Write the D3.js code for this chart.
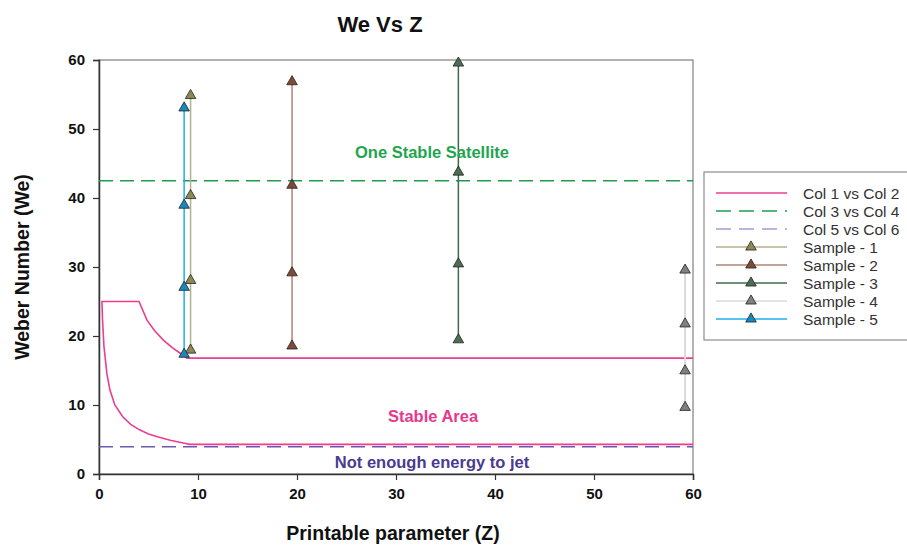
<!DOCTYPE html>
<head>
<meta charset="utf-8">
<title>We Vs Z</title>
<style>
  body { margin: 0; background: #fff; }
  text { font-family: "Liberation Sans", Arial, sans-serif; }
</style>
</head>
<body>
<svg width="907" height="545"></svg>
<script src="https://d3js.org/d3.v7.min.js"></script>
<script>

    // boundary curve (Col 1 vs Col 2)
    const boundZ  = [60, 8.9, 8.2, 7.4, 6.5, 5.6, 4.85, 4.04, 0.3, 0.35, 0.5, 0.8, 1.1, 1.6, 2.4, 3.2, 4.1, 5.0, 5.9, 7.2, 8.5, 9.2, 60];
    const boundWe = [16.8, 16.8, 17.5, 18.3, 19.4, 20.8, 22.3, 25, 25, 22.5, 18.5, 14.5, 12.2, 10.0, 8.3, 7.2, 6.4, 5.8, 5.4, 4.9, 4.5, 4.3, 4.3];

    // Col 3 vs Col 4 and Col 5 vs Col 6 (horizontal limits)
    const satZ = [0, 60], satWe = [42.5, 42.5];
    const jetZ = [0, 60], jetWe = [3.95, 3.95];

    // samples
    const sampleNames = ["Sample - 1", "Sample - 2", "Sample - 3", "Sample - 4", "Sample - 5"];
    const sampleZ = [9.25, 19.5, 36.3, 59.2, 8.6];
    const sampleWe = [
        [55.0, 40.5, 28.2, 18.1],
        [57.0, 42.0, 29.3, 18.7],
        [59.7, 43.9, 30.6, 19.6],
        [29.7, 21.9, 15.1, 9.8],
        [53.2, 39.1, 27.2, 17.5]
    ];
    const sampleLine = ["#b4b08c", "#b08474", "#3f6a48", "#dadada", "#1eb0e8"];
    const sampleFill = ["#8c8a52", "#7c4c38", "#4c6e52", "#808080", "#1888c0"];

    const xTicks = [0, 10, 20, 30, 40, 50, 60];
    const yTicks = [0, 10, 20, 30, 40, 50, 60];

    const svg = d3.select("svg");
    const m = { left: 99, right: 693, top: 60, bottom: 474 };

    const x = d3.scaleLinear().domain([0, 60]).range([m.left, m.right]);
    const y = d3.scaleLinear().domain([0, 60]).range([m.bottom, m.top]);

    // frame
    svg.append("rect")
        .attr("x", m.left).attr("y", m.top)
        .attr("width", m.right - m.left).attr("height", m.bottom - m.top)
        .attr("fill", "none").attr("stroke", "#666").attr("stroke-width", 1);

    // axes
    const xAxis = svg.append("g")
        .attr("transform", "translate(0," + m.bottom + ")")
        .call(d3.axisBottom(x).tickValues(xTicks).tickSize(6).tickPadding(8).tickFormat(d3.format("d")));
    const yAxis = svg.append("g")
        .attr("transform", "translate(" + m.left + ",0)")
        .call(d3.axisLeft(y).tickValues(yTicks).tickSize(6).tickPadding(8).tickFormat(d3.format("d")));
    [xAxis, yAxis].forEach(a => {
        a.select(".domain").attr("stroke", "#333").attr("stroke-width", 1.5);
        a.selectAll(".tick line").attr("stroke", "#333").attr("stroke-width", 1.2);
        a.selectAll("text").attr("font-size", 15).attr("font-weight", "bold").attr("fill", "#111")
            .style("font-family", "'Liberation Sans', Arial, sans-serif");
    });

    const line = d3.line().x(d => x(d[0])).y(d => y(d[1]));

    // limit lines
    svg.append("path")
        .attr("d", line(jetZ.map((z, i) => [z, jetWe[i]])))
        .attr("fill", "none").attr("stroke", "#6b5bb0").attr("stroke-width", 1.5)
        .attr("stroke-dasharray", "14,7");
    svg.append("path")
        .attr("d", line(satZ.map((z, i) => [z, satWe[i]])))
        .attr("fill", "none").attr("stroke", "#1c9e4c").attr("stroke-width", 1.5)
        .attr("stroke-dasharray", "14,7");
    svg.append("path")
        .attr("d", line(boundZ.map((z, i) => [z, boundWe[i]])))
        .attr("fill", "none").attr("stroke", "#ee3d8f").attr("stroke-width", 1.6);

    // samples
    const tri = d3.symbol().type(d3.symbolTriangle).size(48);
    sampleNames.forEach((name, i) => {
        const pts = sampleWe[i].map(w => [sampleZ[i], w]);
        svg.append("path")
            .attr("d", line(pts))
            .attr("fill", "none").attr("stroke", sampleLine[i]).attr("stroke-width", i === 3 ? 2 : 1.5);
        svg.append("g").selectAll("path")
            .data(pts)
            .join("path")
            .attr("transform", d => "translate(" + x(d[0]) + "," + (y(d[1]) + 1) + ")")
            .attr("d", tri)
            .attr("fill", sampleFill[i]).attr("stroke", "#222").attr("stroke-width", 0.8);
    });

    // annotations
    svg.append("text").attr("x", 432).attr("y", 158).attr("text-anchor", "middle")
        .attr("font-size", 16.5).attr("font-weight", "bold").attr("fill", "#1ea64e").text("One Stable Satellite");
    svg.append("text").attr("x", 433).attr("y", 422).attr("text-anchor", "middle")
        .attr("font-size", 16.5).attr("font-weight", "bold").attr("fill", "#e8388c").text("Stable Area");
    svg.append("text").attr("x", 432).attr("y", 468).attr("text-anchor", "middle")
        .attr("font-size", 16.5).attr("font-weight", "bold").attr("fill", "#4a3a92").text("Not enough energy to jet");

    // titles
    svg.append("text").attr("x", 380).attr("y", 32).attr("text-anchor", "middle")
        .attr("font-size", 22).attr("font-weight", "bold").attr("fill", "#111").text("We Vs Z");
    svg.append("text").attr("x", 393).attr("y", 540).attr("text-anchor", "middle")
        .attr("font-size", 19.5).attr("font-weight", "bold").attr("fill", "#111").text("Printable parameter (Z)");
    svg.append("text").attr("transform", "translate(29,267) rotate(-90)").attr("text-anchor", "middle")
        .attr("font-size", 19.5).attr("font-weight", "bold").attr("fill", "#111").text("Weber Number (We)");

    // legend
    const legend = svg.append("g").attr("transform", "translate(704,172)");
    legend.append("rect").attr("width", 215).attr("height", 168)
        .attr("fill", "#fff").attr("stroke", "#777").attr("stroke-width", 1);
    const legItems = [
        { label: "Col 1 vs Col 2", color: "#ee3d8f", dash: null, fill: null },
        { label: "Col 3 vs Col 4", color: "#1c9e4c", dash: "15,8", fill: null },
        { label: "Col 5 vs Col 6", color: "#a898d4", dash: "15,8", fill: null }
    ].concat(sampleNames.map((n, i) => ({ label: n, color: sampleLine[i], dash: null, fill: sampleFill[i] })));
    legItems.forEach((d, i) => {
        const g = legend.append("g").attr("transform", "translate(0," + (21 + i * 18) + ")");
        g.append("line").attr("x1", 12).attr("x2", 83)
            .attr("stroke", d.color).attr("stroke-width", 1.6)
            .attr("stroke-dasharray", d.dash);
        if (d.fill) {
            g.append("path").attr("transform", "translate(47,0)").attr("d", tri)
                .attr("fill", d.fill).attr("stroke", "#222").attr("stroke-width", 0.8);
        }
        g.append("text").attr("x", 99).attr("y", 5.5).attr("font-size", 15.5).attr("fill", "#333").text(d.label);
    });

</script>
</body>
